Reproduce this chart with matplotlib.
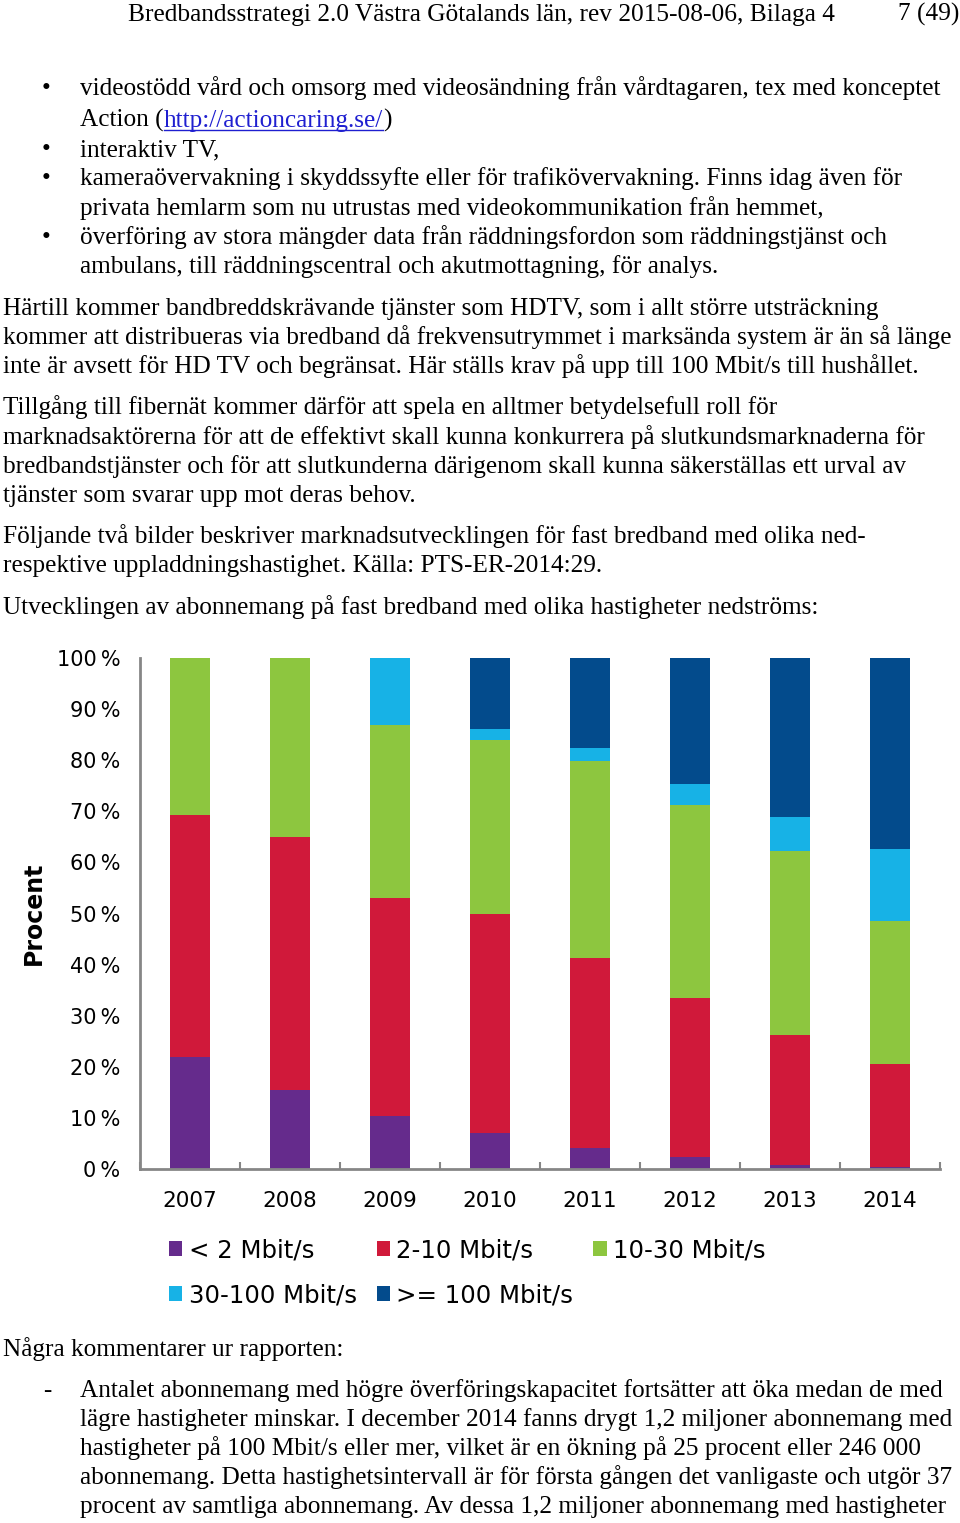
import matplotlib
matplotlib.use("Agg")
import matplotlib.pyplot as plt
from matplotlib.patches import Patch
import numpy as np

# ---------------- data ----------------
years = ['2007', '2008', '2009', '2010', '2011', '2012', '2013', '2014']
series_names = ['< 2 Mbit/s', '2-10 Mbit/s', '10-30 Mbit/s', '30-100 Mbit/s', '>= 100 Mbit/s']
lt2 = [22.0, 15.5, 10.4, 7.1, 4.2, 2.3, 0.7, 0.3]
m2_10 = [47.2, 49.4, 42.6, 42.8, 37.0, 31.2, 25.5, 20.2]
m10_30 = [30.8, 35.1, 33.8, 34.1, 38.6, 37.7, 36.1, 28.0]
m30_100 = [0.0, 0.0, 13.2, 2.1, 2.6, 4.2, 6.6, 14.1]
ge100 = [0.0, 0.0, 0.0, 13.9, 17.6, 24.6, 31.1, 37.4]
colors = ['#652B8C', '#D0193A', '#8DC63F', '#17B2E6', '#034B8C']
ytick_vals = [0, 10, 20, 30, 40, 50, 60, 70, 80, 90, 100]
ylabel = 'Procent'

header_left = 'Bredbandsstrategi 2.0 Västra Götalands län, rev 2015-08-06, Bilaga 4'
header_right = '7 (49)'

bullet_lines = [
    ('•', 'videostödd vård och omsorg med videosändning från vårdtagaren, tex med konceptet'),
    ('', None),  # Action link line
    ('•', 'interaktiv TV,'),
    ('•', 'kameraövervakning i skyddssyfte eller för trafikövervakning. Finns idag även för'),
    ('', 'privata hemlarm som nu utrustas med videokommunikation från hemmet,'),
    ('•', 'överföring av stora mängder data från räddningsfordon som räddningstjänst och'),
    ('', 'ambulans, till räddningscentral och akutmottagning, för analys.'),
]
bullet_baselines = [95, 127, 156, 185, 214.5, 244, 273]

para_lines = [
    'Härtill kommer bandbreddskrävande tjänster som HDTV, som i allt större utsträckning',
    'kommer att distribueras via bredband då frekvensutrymmet i marksända system är än så länge',
    'inte är avsett för HD TV och begränsat. Här ställs krav på upp till 100 Mbit/s till hushållet.',
    'Tillgång till fibernät kommer därför att spela en alltmer betydelsefull roll för',
    'marknadsaktörerna för att de effektivt skall kunna konkurrera på slutkundsmarknaderna för',
    'bredbandstjänster och för att slutkunderna därigenom skall kunna säkerställas ett urval av',
    'tjänster som svarar upp mot deras behov.',
    'Följande två bilder beskriver marknadsutvecklingen för fast bredband med olika ned-',
    'respektive uppladdningshastighet. Källa: PTS-ER-2014:29.',
    'Utvecklingen av abonnemang på fast bredband med olika hastigheter nedströms:',
]
para_baselines = [315, 344.3, 373.3, 414.3, 444, 472.5, 502, 542.7, 571.7, 614]

after_title = 'Några kommentarer ur rapporten:'
after_title_base = 1356
dash_lines = [
    'Antalet abonnemang med högre överföringskapacitet fortsätter att öka medan de med',
    'lägre hastigheter minskar. I december 2014 fanns drygt 1,2 miljoner abonnemang med',
    'hastigheter på 100 Mbit/s eller mer, vilket är en ökning på 25 procent eller 246 000',
    'abonnemang. Detta hastighetsintervall är för första gången det vanligaste och utgör 37',
    'procent av samtliga abonnemang. Av dessa 1,2 miljoner abonnemang med hastigheter',
]
dash_baselines = [1397, 1426, 1455, 1484, 1513]

# ---------------- figure ----------------
W, H = 960, 1523
fig = plt.figure(figsize=(W / 100, H / 100), dpi=100)
fig.patch.set_facecolor('white')
SERIF = 'Liberation Serif'
renderer = fig.canvas.get_renderer()


def px(x, y):
    return x / W, 1 - y / H


def fit_size(s, target_w, family=SERIF, probe_size=20):
    t = fig.text(0, 0, s, fontsize=probe_size, family=family)
    w = t.get_window_extent(renderer).width
    t.remove()
    return probe_size * target_w / w


def put(x, yb, s, size, color='black', ha='left', family=SERIF):
    return fig.text(*px(x, yb), s, fontsize=size, family=family, color=color,
                    ha=ha, va='baseline')


body_fs = fit_size(para_lines[1], 950)
head_fs = fit_size(header_left, 708)

# header
put(128, 20.7, header_left, head_fs)
put(959, 20.7, header_right, head_fs, ha='right')

# bullets
for (mark, line), yb in zip(bullet_lines, bullet_baselines):
    if mark:
        put(42, yb, mark, body_fs)
    if line is not None:
        put(80, yb, line, body_fs)

# Action link line
yb = bullet_baselines[1]
t1 = put(80, yb, 'Action (', body_fs)
w1 = t1.get_window_extent(renderer).width
t2 = put(80 + w1, yb, 'http://actioncaring.se/', body_fs, color='#1F1FD0')
w2 = t2.get_window_extent(renderer).width
put(80 + w1 + w2, yb, ')', body_fs)
fig.add_artist(plt.Line2D([(80 + w1) / W, (80 + w1 + w2) / W],
                          [1 - (yb + 3) / H, 1 - (yb + 3) / H],
                          color='#1F1FD0', linewidth=1.0, transform=fig.transFigure))

for line, yb in zip(para_lines, para_baselines):
    put(3, yb, line, body_fs)

put(3, after_title_base, after_title, body_fs)
for i, (line, yb) in enumerate(zip(dash_lines, dash_baselines)):
    if i == 0:
        put(43, yb, '-', body_fs)
    put(80, yb, line, body_fs)

# ---------------- chart ----------------
ax_left, ax_right, ax_top, ax_bot = 140, 940, 658, 1169
ax = fig.add_axes([ax_left / W, 1 - ax_bot / H, (ax_right - ax_left) / W, (ax_bot - ax_top) / H])
x = np.arange(len(years))
stack = [lt2, m2_10, m10_30, m30_100, ge100]
bottom = np.zeros(len(years))
handles = []
for vals, c, name in zip(stack, colors, series_names):
    v = np.array(vals)
    ax.bar(x, v, width=0.4, bottom=bottom, color=c, edgecolor='none', label=name)
    bottom += v
    handles.append(Patch(facecolor=c, edgecolor='none', label=name))

ax.set_xlim(-0.5, len(years) - 0.5)
ax.set_ylim(0, 100)
ax.set_yticks(ytick_vals)
ax.set_yticklabels([f'{v}\u2009%' for v in ytick_vals])
ax.set_xticks(x)
ax.set_xticklabels(years)
ax.set_xticks(np.arange(-0.5, len(years)), minor=True)
ax.tick_params(axis='y', length=0, pad=14, labelsize=15)
ax.tick_params(axis='x', which='major', length=0, pad=15.5, labelsize=15.5)
ax.tick_params(axis='x', which='minor', length=5, width=1.5, direction='in', color='#868686')
for side in ('top', 'right'):
    ax.spines[side].set_visible(False)
for side in ('left', 'bottom'):
    ax.spines[side].set_color('#868686')
    ax.spines[side].set_linewidth(2)
ax.set_facecolor('white')

fig.text(*px(34, 913), ylabel, rotation=90, fontsize=17, fontweight='bold',
         ha='center', va='center', family='DejaVu Sans')

# legend: column-major order so rows read left to right
order = [0, 3, 1, 4, 2]
leg = fig.legend([handles[i] for i in order], [series_names[i] for i in order],
                 ncol=3, loc='upper left', bbox_to_anchor=px(169, 1238),
                 bbox_transform=fig.transFigure, frameon=False, fontsize=17.6,
                 handlelength=0.55, handleheight=0.55, handletextpad=0.25,
                 columnspacing=0.82, labelspacing=0.86, borderpad=0, borderaxespad=0)

fig.savefig('out.png', dpi=100, facecolor='white')
